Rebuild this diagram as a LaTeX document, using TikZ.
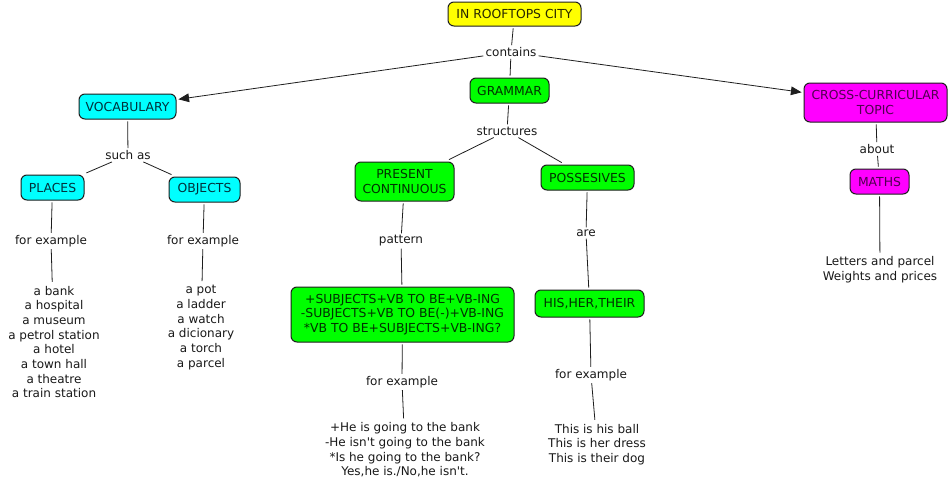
\documentclass[tikz,border=0pt]{standalone}
\usepackage{fontspec}
\setmainfont{DejaVu Sans}
\usetikzlibrary{arrows.meta}
\definecolor{cmYel}{RGB}{255,255,0}
\definecolor{cmCya}{RGB}{0,255,255}
\definecolor{cmGrn}{RGB}{0,255,0}
\definecolor{cmMag}{RGB}{255,0,255}
\definecolor{tYel}{RGB}{40,40,0}
\definecolor{tCya}{RGB}{0,50,60}
\definecolor{tGrn}{RGB}{0,50,0}
\definecolor{tMag}{RGB}{80,0,80}
\definecolor{lineC}{RGB}{30,30,30}
\definecolor{txtC}{RGB}{25,25,25}
\begin{document}
\begin{tikzpicture}[x=0.75pt,y=-0.75pt,
  every node/.style={font=\fontsize{9}{11}\selectfont},
  sz/.style 2 args={minimum width=#1*0.75pt, minimum height=#2*0.75pt},
  concept/.style={draw=lineC, line width=0.75pt, rounded corners=4.5pt, align=center, inner sep=1pt, outer sep=1.8pt, font=\fontsize{9.3}{11}\selectfont},
  yel/.style={concept, fill=cmYel, text=tYel},
  cya/.style={concept, fill=cmCya, text=tCya},
  grn/.style={concept, fill=cmGrn, text=tGrn},
  mag/.style={concept, fill=cmMag, text=tMag},
  lbl/.style={inner sep=1.5pt, text=txtC},
  txt/.style={align=center, inner sep=3pt, text=txtC},
  link/.style={draw=lineC, line width=0.6pt},
  arr/.style={link, -{Triangle[length=8pt,width=6.5pt]}}
]
\useasboundingbox[fill=white] (0,0) rectangle (950,489);

\node[yel, sz={133}{24}] (root) at (514.5,14) {IN ROOFTOPS CITY};
\node[lbl] (contains) at (511,52) {contains};
\node[cya, sz={97}{25}] (vocab) at (127.5,106.5) {VOCABULARY};
\node[grn, sz={79}{25}] (gram) at (509.5,90.5) {GRAMMAR};
\node[mag, sz={143}{39}] (cross) at (875.5,102.5) {CROSS-CURRICULAR\\TOPIC};

\node[lbl] (suchas) at (128,155) {such as};
\node[cya, sz={63}{25}] (places) at (52.5,187.5) {PLACES};
\node[cya, sz={71}{25}] (objects) at (204.5,189.5) {OBJECTS};
\node[lbl] (fe1) at (51,241) {for example};
\node[lbl] (fe2) at (203,241) {for example};
\node[txt] (plist) at (54,342) {a bank\\a hospital\\a museum\\a petrol station\\a hotel\\a town hall\\a theatre\\a train station};
\node[txt] (olist) at (201,327.5) {a pot\\a ladder\\a watch\\a dicionary\\a torch\\a parcel};

\node[lbl] (struct) at (507,131) {structures};
\node[grn, sz={99}{39}] (pres) at (404.5,181.5) {PRESENT\\CONTINUOUS};
\node[grn, sz={93}{25}] (poss) at (587.5,177.5) {POSSESIVES};
\node[lbl] (pattern) at (401,241) {pattern};
\node[grn, sz={223}{55}] (patbox) at (402.5,314.5) {+SUBJECTS+VB TO BE+VB-ING\\-SUBJECTS+VB TO BE(-)+VB-ING\\*VB TO BE+SUBJECTS+VB-ING?};
\node[lbl] (fe3) at (402,382) {for example};
\node[txt] (glist) at (405,450) {+He is going to the bank\\-He isn\textquotesingle t going to the bank\\*Is he going to the bank?\\Yes,he is./No,he isn\textquotesingle t.};

\node[lbl] (are) at (586,233) {are};
\node[grn, sz={109}{27}] (his) at (589.5,303.5) {HIS,HER,THEIR};
\node[lbl] (fe4) at (591,375) {for example};
\node[txt] (hlist) at (597,444.5) {This is his ball\\This is her dress\\This is their dog};

\node[lbl] (about) at (877,149) {about};
\node[mag, sz={59}{25}] (maths) at (879.5,181.5) {MATHS};
\node[txt] (llist) at (880,270) {Letters and parcel\\Weights and prices};

\draw[link] (root) -- (contains);
\draw[arr] (contains) -- (vocab);
\draw[link] (contains) -- (gram);
\draw[arr] (contains) -- (cross);

\draw[link] (vocab) -- (suchas);
\draw[link] (suchas) -- (places);
\draw[link] (suchas) -- (objects);
\draw[link] (places) -- (fe1);
\draw[link] (fe1) -- (plist);
\draw[link] (objects) -- (fe2);
\draw[link] (fe2) -- (olist);

\draw[link] (gram) -- (struct);
\draw[link] (struct) -- (pres);
\draw[link] (struct) -- (poss);
\draw[link] (pres) -- (pattern);
\draw[link] (pattern) -- (patbox);
\draw[link] (patbox) -- (fe3);
\draw[link] (fe3) -- (glist);
\draw[link] (poss) -- (are);
\draw[link] (are) -- (his);
\draw[link] (his) -- (fe4);
\draw[link] (fe4) -- (hlist);

\draw[link] (cross) -- (about);
\draw[link] (about) -- (maths);
\draw[link] (maths) -- (llist);
\end{tikzpicture}
\end{document}
